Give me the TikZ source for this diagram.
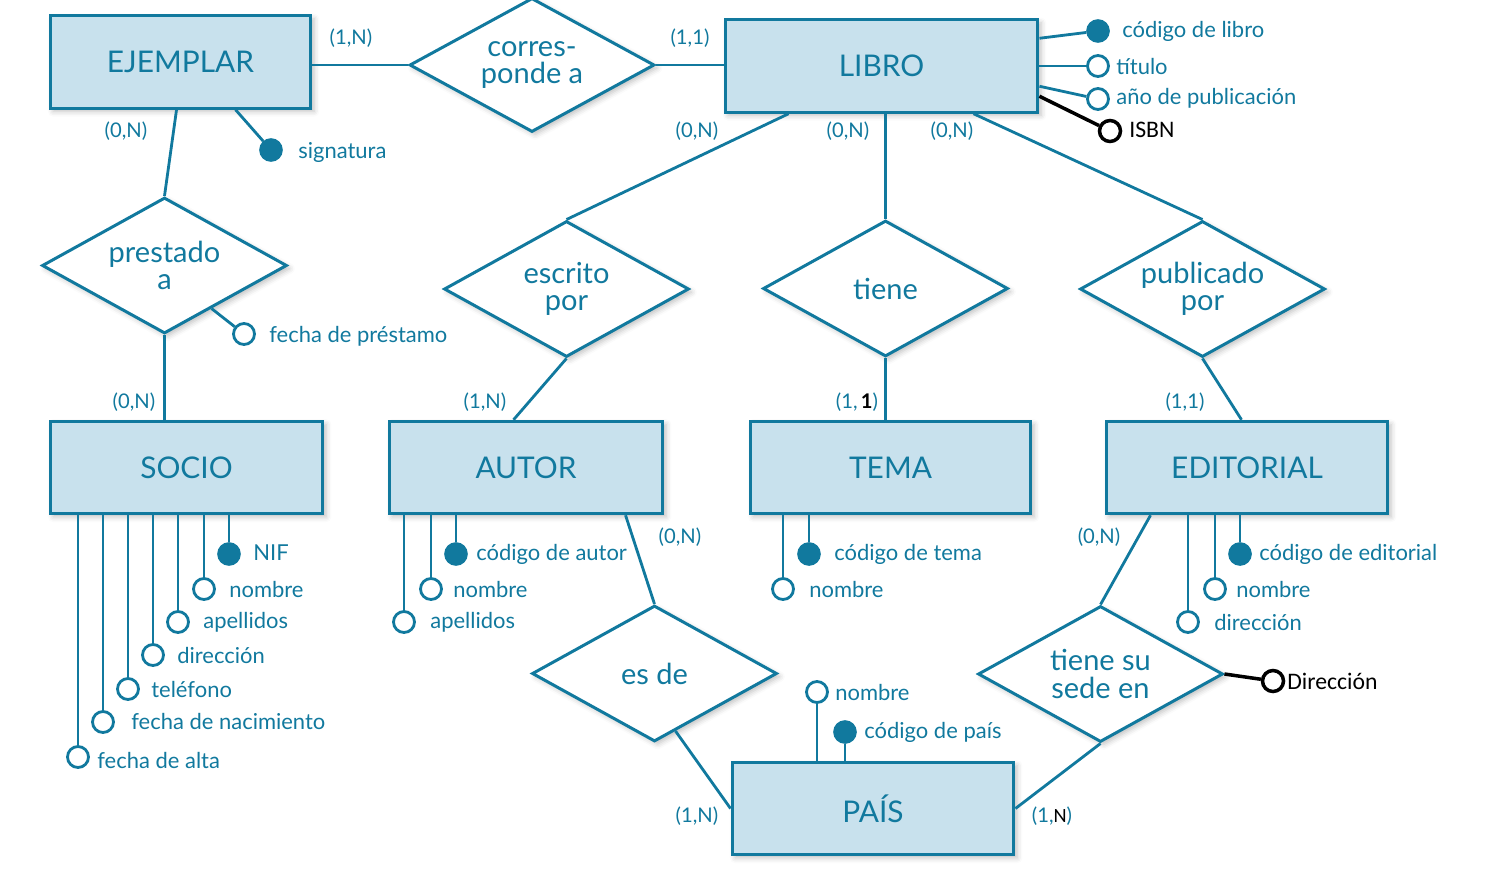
\documentclass[tikz,border=0pt]{standalone}
\usepackage{fontspec}
\setmainfont{Lato}
\newfontfamily\calib{Carlito}
\usetikzlibrary{shapes.geometric,calc,shadows.blur}
\definecolor{erblue}{RGB}{17,121,158}
\definecolor{erfill}{RGB}{200,225,237}
\tikzset{
  soft/.style={blur shadow={shadow xshift=1.8pt,shadow yshift=-1.8pt,shadow blur radius=3pt,shadow opacity=25}},
  entity/.style={draw=erblue,line width=1.7pt,fill=erfill,inner sep=0pt,minimum height=1.85cm,
    text=erblue,font=\fontsize{17}{20}\selectfont,soft},
  rel/.style={shape=diamond,draw=erblue,line width=1.7pt,fill=white,inner sep=0pt,shape aspect=1.8,
    minimum width=4.9cm,minimum height=2.72cm,align=center,text=erblue,
    font=\fontsize{16.5}{15.5}\selectfont,soft},
  keyattr/.style={circle,fill=erblue,draw=erblue,line width=1.5pt,minimum size=0.42cm,inner sep=0pt},
  attr/.style={circle,fill=white,draw=erblue,line width=1.6pt,minimum size=0.42cm,inner sep=0pt},
  battr/.style={circle,fill=white,draw=black,line width=2pt,minimum size=0.42cm,inner sep=0pt},
  atxt/.style={anchor=west,inner sep=0pt,text=erblue,font=\fontsize{12.5}{14}\selectfont},
  btxt/.style={anchor=west,inner sep=0pt,text=black,font=\calib\fontsize{13.5}{15}\selectfont},
  card/.style={inner sep=0pt,text=erblue,font=\fontsize{11.5}{13}\selectfont},
  conn/.style={draw=erblue,line width=1.6pt},
  bconn/.style={draw=black,line width=2pt}
}
\begin{document}
\begin{tikzpicture}[x=0.02cm,y=-0.02cm]
\useasboundingbox (0,0) rectangle (1488,876);
% entities
\node[entity,minimum width=5.22cm] (ejemplar) at (180.5,62) {EJEMPLAR};
\node[entity,minimum width=6.26cm] (libro) at (881.5,66) {LIBRO};
\node[entity,minimum width=5.46cm] (socio) at (186.5,467.5) {SOCIO};
\node[entity,minimum width=5.48cm] (autor) at (526,467.5) {AUTOR};
\node[entity,minimum width=5.62cm] (tema) at (890.5,467.5) {TEMA};
\node[entity,minimum width=5.64cm] (editorial) at (1247,467.5) {EDITORIAL};
\node[entity,minimum width=5.64cm] (pais) at (873,808.5) {PAÍS};
% relationships
\node[rel,minimum height=2.68cm] (corr) at (532,65) {corres-\\ponde a};
\node[rel] (prest) at (164.5,265.5) {prestado\\a};
\node[rel] (escr) at (566.5,289) {escrito\\por};
\node[rel] (tiene) at (885.5,288.5) {tiene};
\node[rel] (publ) at (1202.5,289) {publicado\\por};
\node[rel] (esde) at (654.5,673.5) {es de};
\node[rel] (sede) at (1100.5,674) {tiene su\\sede en};
% attribute circles
\node[keyattr] (clibro) at (1098,31) {};
\node[attr] (titulo) at (1098,66) {};
\node[attr] (anio) at (1098,99) {};
\node[battr] (isbn) at (1110,131) {};
\node[keyattr] (sign) at (271,150) {};
\node[attr] (fprest) at (244,334) {};
\node[keyattr] (nif) at (229,554) {};
\node[attr] (snom) at (204,589) {};
\node[attr] (sape) at (178,622) {};
\node[attr] (sdir) at (153,655) {};
\node[attr] (stel) at (128,689) {};
\node[attr] (sfnac) at (103,722) {};
\node[attr] (sfalta) at (78,757) {};
\node[keyattr] (caut) at (456,554) {};
\node[attr] (anom) at (431,589) {};
\node[attr] (aape) at (404,622) {};
\node[keyattr] (ctema) at (809,554) {};
\node[attr] (tnom) at (783,589) {};
\node[keyattr] (cedit) at (1240,554) {};
\node[attr] (enom) at (1215,589) {};
\node[attr] (edir) at (1188,622) {};
\node[attr] (pnom) at (817,692) {};
\node[keyattr] (pcod) at (845,732) {};
\node[battr] (sdirb) at (1273,681) {};
% attribute texts
\node[atxt] (tclibro) at (1122,31) {código de libro};
\node[atxt] (ttitulo) at (1116,66) {título};
\node[atxt] (tanio) at (1116,98) {año de publicación};
\node[btxt] (tisbn) at (1129,130) {ISBN};
\node[atxt] (tsign) at (298,152) {signatura};
\node[atxt] (tfprest) at (269,336) {fecha de préstamo};
\node[atxt] (tnif) at (253,553) {NIF};
\node[atxt] (tsnom) at (229,589) {nombre};
\node[atxt] (tsape) at (203,622) {apellidos};
\node[atxt] (tsdir) at (177,655) {dirección};
\node[atxt] (tstel) at (151,689) {teléfono};
\node[atxt] (tsfnac) at (131,721) {fecha de nacimiento};
\node[atxt] (tsfalta) at (97,760) {fecha de alta};
\node[atxt] (tcaut) at (476,554) {código de autor};
\node[atxt] (tanom) at (453,589) {nombre};
\node[atxt] (taape) at (430,622) {apellidos};
\node[atxt] (tctema) at (834,554) {código de tema};
\node[atxt] (ttnom) at (809,589) {nombre};
\node[atxt] (tcedit) at (1259,554) {código de editorial};
\node[atxt] (tenom) at (1236,589) {nombre};
\node[atxt] (tedir) at (1214,622) {dirección};
\node[atxt] (tpnom) at (835,692) {nombre};
\node[atxt] (tpcod) at (864,732) {código de país};
\node[btxt] (tsdirb) at (1287,681) {Dirección};
% cardinalities
\node[card] (k1) at (351,38) {(1,N)};
\node[card] (k2) at (690,38) {(1,1)};
\node[card] (k3) at (126,131) {(0,N)};
\node[card] (k4) at (697,131) {(0,N)};
\node[card] (k5) at (848,131) {(0,N)};
\node[card] (k6) at (952,131) {(0,N)};
\node[card] (k7) at (134,402) {(0,N)};
\node[card] (k8) at (485,402) {(1,N)};
\node[card] (k9) at (857,402) {(1,\,\textcolor{black}{\textbf{1}})};
\node[card] (k10) at (1185,402) {(1,1)};
\node[card] (k11) at (680,537) {(0,N)};
\node[card] (k12) at (1099,537) {(0,N)};
\node[card] (k13) at (697,816) {(1,N)};
\node[card] (k14) at (1052,816) {(1,\textcolor{black}{{\calib N}})};
% relationship connectors
\draw[conn] (ejemplar.east |- corr.west) -- (corr.west);
\draw[conn] (corr.east) -- (libro.west |- corr.east);
\draw[conn] ($(ejemplar.south west)+(128,0)$) -- (prest.north);
\draw[conn] (prest.south) -- (socio.north -| prest.south);
\draw[conn] ($(libro.south west)+(65,0)$) -- (escr.north);
\draw[conn] (libro.south -| tiene.north) -- (tiene.north);
\draw[conn] ($(libro.south west)+(250,0)$) -- (publ.north);
\draw[conn] (escr.south) -- ($(autor.north west)+(126,0)$);
\draw[conn] (tiene.south) -- (tema.north -| tiene.south);
\draw[conn] (publ.south) -- ($(editorial.north west)+(137,0)$);
\draw[conn] ($(autor.south west)+(238,0)$) -- (esde.north);
\draw[conn] ($(editorial.south west)+(46,0)$) -- (sede.north);
\draw[conn] ($(esde.south)!0.17!(esde.east)$) -- (pais.west);
\draw[conn] (sede.south) -- (pais.east);
% attribute connectors
\draw[conn] ($(libro.north east)+(0,20)$) -- (clibro);
\draw[conn] (libro.east) -- (titulo);
\draw[conn] ($(libro.north east)+(0,68)$) -- (anio);
\draw[bconn] ($(libro.north east)+(0,78)$) -- (isbn);
\draw[conn] ($(ejemplar.south west)+(187,0)$) -- (sign);
\draw[conn] ($(prest.south)!0.38!(prest.east)$) -- (fprest);
\foreach \a in {nif,snom,sape,sdir,stel,sfnac,sfalta} \draw[conn] (socio.south -| \a) -- (\a);
\foreach \a in {caut,anom,aape} \draw[conn] (autor.south -| \a) -- (\a);
\foreach \a in {ctema,tnom} \draw[conn] (tema.south -| \a) -- (\a);
\foreach \a in {cedit,enom,edir} \draw[conn] (editorial.south -| \a) -- (\a);
\foreach \a in {pnom,pcod} \draw[conn] (pais.north -| \a) -- (\a);
\draw[bconn] (sede.east) -- (sdirb);
\end{tikzpicture}
\end{document}
